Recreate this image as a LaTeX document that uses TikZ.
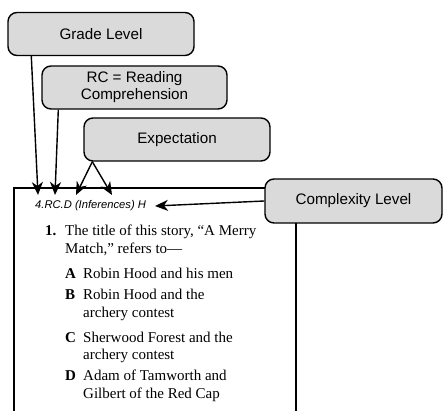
\documentclass[tikz,border=0pt]{standalone}
\usepackage{fontspec}
\setmainfont{Liberation Serif}
\setsansfont{Liberation Sans}
\usetikzlibrary{arrows.meta}
\definecolor{boxgray}{RGB}{218,218,218}
\begin{document}
\begin{tikzpicture}[x=1pt,y=-1pt]
\tikzset{callout/.style={draw, rounded corners=9pt, fill=boxgray, line width=1.4pt, minimum width=186pt, minimum height=43pt, align=center, font=\sffamily\fontsize{15.2}{17}\selectfont},
pointer/.style={-{Stealth[length=13pt,width=11pt,inset=4pt]}, line width=1.4pt},
itemtext/.style={anchor=base west, inner sep=0pt, font=\fontsize{15}{18}\selectfont},
itemkey/.style={anchor=base west, inner sep=0pt, font=\bfseries\fontsize{15}{18}\selectfont}}
\useasboundingbox (0,0) rectangle (444,411);
\draw[line width=1.4pt] (14,411) -- (14,188) -- (296,188) -- (296,411);
\node[callout] (grade) at (101,34) {Grade Level};
\node[callout, minimum width=185pt] (rc) at (134.5,87.5) {RC = Reading\\Comprehension};
\node[callout] (expect) at (177,139.5) {Expectation};
\node[callout, minimum width=177pt, minimum height=44pt] (complex) at (353.5,201) {Complexity Level};
\node[anchor=base west, inner sep=0pt, font=\sffamily\itshape\fontsize{11.2}{13}\selectfont] (code) at (35,209) {4.RC.D (Inferences) H};
\node[itemkey] (n1) at (45,236) {1.};
\node[itemtext] (stem1) at (65,236) {The title of this story, “A Merry};
\node[itemtext] (stem2) at (65,254) {Match,” refers to—};
\node[itemkey] (ka) at (65,279) {A};
\node[itemtext] (ta) at (83,279) {Robin Hood and his men};
\node[itemkey] (kb) at (65,300) {B};
\node[itemtext] (tb1) at (83,300) {Robin Hood and the};
\node[itemtext] (tb2) at (83,318) {archery contest};
\node[itemkey] (kc) at (65,342) {C};
\node[itemtext] (tc1) at (83,342) {Sherwood Forest and the};
\node[itemtext] (tc2) at (83,359) {archery contest};
\node[itemkey] (kd) at (65,380) {D};
\node[itemtext] (td1) at (83,380) {Adam of Tamworth and};
\node[itemtext] (td2) at (83,398) {Gilbert of the Red Cap};
\coordinate (tipg) at (38,195);
\coordinate (tiprc) at (55,195);
\coordinate (tipe1) at (76,195);
\coordinate (tipe2) at (112,195);
\coordinate (tipc) at (155,206);
\draw[pointer] ([xshift=24pt]grade.south west) -- (tipg);
\draw[pointer] ([xshift=17pt]rc.south west) -- (tiprc);
\draw[pointer] ([xshift=9pt]expect.south west) -- (tipe1);
\draw[pointer] ([xshift=9pt]expect.south west) -- (tipe2);
\draw[pointer] (complex.west) -- (tipc);
\end{tikzpicture}
\end{document}
